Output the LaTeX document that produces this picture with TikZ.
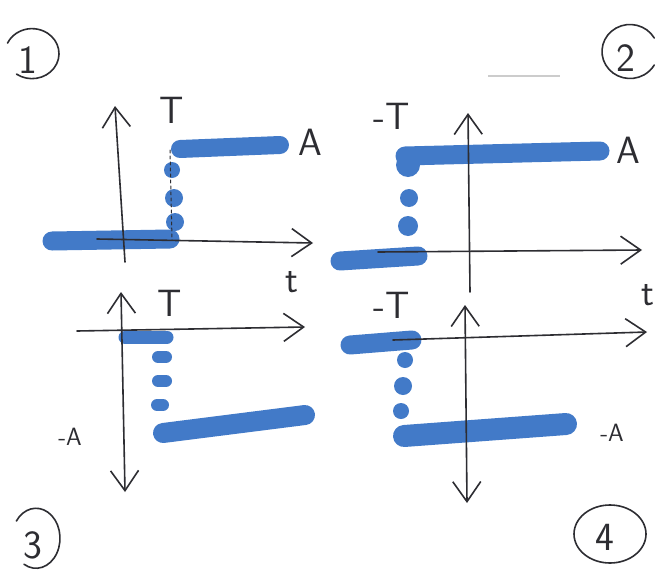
\documentclass[tikz,border=0pt]{standalone}
\usetikzlibrary{arrows.meta}
\definecolor{ink}{RGB}{45,45,50}
\definecolor{marker}{RGB}{66,122,200}
\begin{document}
\begin{tikzpicture}[x=1pt,y=-1pt,
  pen/.style={draw=ink,line width=1.6pt,line cap=round},
  axis/.style={pen,-{Straight Barb[length=20pt,width=28pt,line width=1.6pt]}},
  daxis/.style={pen,{Straight Barb[length=20pt,width=28pt,line width=1.6pt]}-{Straight Barb[length=20pt,width=28pt,line width=1.6pt]}},
  bar/.style={draw=marker,line width=19pt,line cap=round},
  blob/.style={fill=marker},
  lbl/.style={text=ink,font=\sffamily\fontsize{38}{42}\selectfont,inner sep=0pt},
  slbl/.style={text=ink,font=\sffamily\fontsize{25}{29}\selectfont,inner sep=0pt},
  num/.style={text=ink,font=\sffamily\fontsize{40}{44}\selectfont,inner sep=0pt},
  ring/.style={pen}]
\useasboundingbox[fill=white] (0,0) rectangle (655,586);

% ---------- panel 1 ----------
\draw[ring] (32,52) ++(125:27) arc[start angle=125,end angle=-155,x radius=27,y radius=25];
\node[num] (n1) at (28,60) {1};
\draw[bar] (52,241) -- (170,239);
\draw[bar,line width=18pt] (180,149) -- (280,145);
\fill[blob] (172,170) circle (8);
\fill[blob] (174,198) circle (9);
\fill[blob] (175,222) circle (9);
\draw[pen,dashed,line width=1pt] (170,150) -- (172,240);
\coordinate (y1a) at (125,262); \coordinate (y1b) at (115,106);
\coordinate (x1a) at (97,239);  \coordinate (x1b) at (313,243);
\draw[axis] (y1a) -- (y1b);
\draw[axis] (x1a) -- (x1b);
\node[lbl] (T1) at (172,110) {T};
\node[lbl] (A1) at (310,142) {A};
\node[lbl] (t1) at (292,282) {t};

% ---------- panel 2 ----------
\draw[ring] (630,52) ++(-30:28) arc[start angle=-30,end angle=-330,x radius=28,y radius=27];
\node[num] (n2) at (626,58) {2};
\draw[draw=black!20,line width=1.4pt] (488,76) -- (560,76);
\draw[bar] (340,261) -- (418,256);
\draw[bar] (405,156) -- (600,151);
\fill[blob] (408,165) circle (12);
\fill[blob] (409,198) circle (9);
\fill[blob] (408,226) circle (10);
\coordinate (y2a) at (470,292); \coordinate (y2b) at (468,113);
\coordinate (x2a) at (378,252); \coordinate (x2b) at (642,250);
\draw[axis] (y2a) -- (y2b);
\draw[axis] (x2a) -- (x2b);
\node[lbl] (T2) at (392,116) {-T};
\node[lbl] (A2) at (628,150) {A};
\node[lbl] (t2) at (648,295) {t};

% ---------- panel 3 ----------
\draw[bar,line width=13pt] (125,337) -- (167,337);
\draw[line width=12pt,marker,line cap=round] (158,357) -- (166,357);
\draw[line width=12pt,marker,line cap=round] (158,381) -- (166,381);
\draw[line width=12pt,marker,line cap=round] (157,405) -- (163,405);
\draw[bar,line width=20pt] (163,433) -- (305,415);
\coordinate (y3a) at (121,292); \coordinate (y3b) at (125,492);
\coordinate (x3a) at (77,331);  \coordinate (x3b) at (305,327);
\draw[daxis] (y3a) -- (y3b);
\draw[axis] (x3a) -- (x3b);
\node[lbl] (T3) at (170,303) {T};
\node[slbl] (A3) at (70,437) {-A};
\draw[ring] (38,540) ++(120:28) arc[start angle=120,end angle=-145,x radius=24,y radius=30];
\node[num] (n3) at (33,545) {3};

% ---------- panel 4 ----------
\draw[bar,line width=19pt] (350,345) -- (412,340);
\fill[blob] (405,360) circle (8);
\fill[blob] (403,386) circle (9);
\fill[blob] (401,411) circle (8);
\draw[bar,line width=22pt] (404,436) -- (566,424);
\coordinate (y4a) at (465,305); \coordinate (y4b) at (467,503);
\coordinate (x4a) at (393,340); \coordinate (x4b) at (647,332);
\draw[daxis] (y4a) -- (y4b);
\draw[axis] (x4a) -- (x4b);
\node[lbl] (T4) at (392,305) {-T};
\node[slbl] (A4) at (612,433) {-A};
\draw[ring] (610,534) ellipse[x radius=36,y radius=29];
\node[num] (n4) at (605,537) {4};
\end{tikzpicture}
\end{document}
